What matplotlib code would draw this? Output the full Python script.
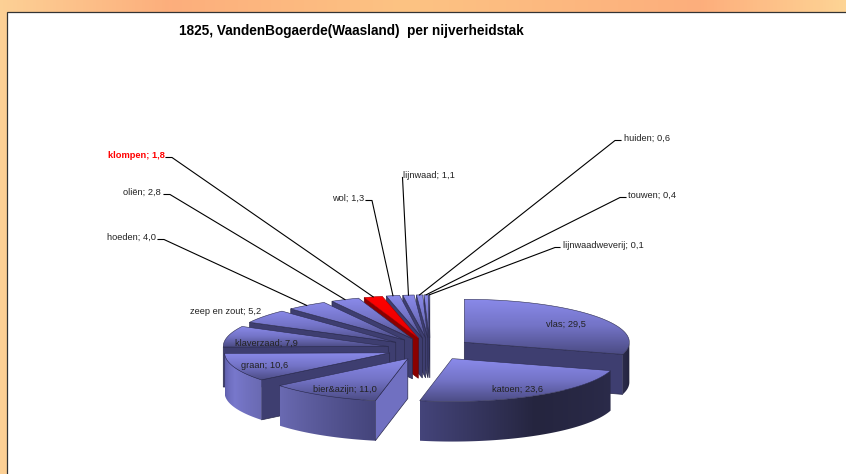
import numpy as np
import matplotlib
matplotlib.use('Agg')
import matplotlib.pyplot as plt
from matplotlib.colors import LinearSegmentedColormap, to_rgb
from matplotlib.patches import Polygon, Rectangle

plt.rcParams['font.family'] = ['Liberation Sans', 'DejaVu Sans']

# data, clockwise from 12 o'clock
categories = ['vlas', 'katoen', 'bier&azijn', 'graan', 'klaverzaad', 'zeep en zout', 'hoeden',
              'oliën', 'klompen', 'wol', 'lijnwaad', 'huiden', 'touwen', 'lijnwaadweverij']
values = [29.5, 23.6, 11.0, 10.6, 7.9, 5.2, 4.0, 2.8, 1.8, 1.3, 1.1, 0.6, 0.4, 0.1]
title = '1825, VandenBogaerde(Waasland)  per nijverheidstak'

# label layout in pixels: anchor x, y, horizontal alignment, leader start x, elbow x
label_pos = {
    'vlas': (566, 324, 'center', None, None),
    'katoen': (518, 389, 'center', None, None),
    'bier&azijn': (345, 389, 'center', None, None),
    'graan': (265, 366, 'center', None, None),
    'klaverzaad': (266, 343, 'center', None, None),
    'zeep en zout': (225.5, 311, 'center', None, None),
    'hoeden': (156, 237, 'right', 158, 164),
    'oliën': (161, 192, 'right', 164, 170),
    'klompen': (165, 155, 'right', 166, 172),
    'wol': (364, 198, 'right', 366, 372),
    'lijnwaad': (403, 175, 'left', 402.5, 402.5),
    'huiden': (623.5, 138, 'left', 621, 615),
    'touwen': (627.5, 195, 'left', 626, 620),
    'lijnwaadweverij': (562.7, 245, 'left', 560, 555),
}

# pie projection (pixels)
CX, CY = 430, 349
RX, RY = 165, 43
DEPTH = 40
EXPLODE = 0.26

fig = plt.figure(figsize=(8.46, 4.74), dpi=100)
ax = fig.add_axes([0, 0, 1, 1])
ax.axis('off')

bg = LinearSegmentedColormap.from_list('bg', [(0, '#fcd095'), (0.2, '#fdae7c'), (0.48, '#fcc383'),
                                              (0.83, '#fdae7c'), (1, '#fdd495')])
ax.imshow(np.linspace(0, 1, 256)[None, :], cmap=bg, extent=(0, 846, 474, 0), aspect='auto', zorder=0)
ax.add_patch(Rectangle((6.5, 11.5), 860, 480, fc='white', ec='#333333', lw=0.9, zorder=1))


def pt(theta, r=1.0):
    """theta in degrees clockwise from north, projected on the ellipse"""
    a = np.radians(theta)
    return np.array([RX * r * np.sin(a), -RY * r * np.cos(a)])


def ramp(theta, stops):
    ang = [a for a, _ in stops]
    rgb = np.array([to_rgb(c) for _, c in stops])
    return np.stack([np.interp(theta, ang, rgb[:, i]) for i in range(3)], axis=-1)


WALL = [(90, '#1e1e36'), (106, '#2b2b4a'), (150, '#25253f'), (191, '#44447a'), (231, '#6a6ab2'),
        (250, '#7878cc'), (269, '#5c5ca8')]
FACE = [(100, '#7272c4'), (140, '#3e3e70')]


def clipped_image(arr, points, z):
    pts = np.array(points)
    x0, y0 = pts.min(axis=0)
    x1, y1 = pts.max(axis=0)
    im = ax.imshow(arr, extent=(x0, x1, y1, y0), origin='upper', aspect='auto', zorder=z)
    clip = Polygon(pts, closed=True, transform=ax.transData, fc='none', ec='none', zorder=z)
    ax.add_patch(clip)
    im.set_clip_path(clip)
    return x0, x1


top_cmap = LinearSegmentedColormap.from_list('top', [(0, '#8a8aea'), (0.5, '#7373c6'), (1, '#4c4c85')])
red_cmap = LinearSegmentedColormap.from_list('red', ['#ff0000', '#e80000'])

edges = np.cumsum([0] + values) / sum(values) * 360
mids = (edges[:-1] + edges[1:]) / 2
order = sorted(range(len(values)), key=lambda k: np.cos(np.radians(mids[k])), reverse=True)

anchors = {}
z = 10
for k in order:
    t0, t1 = edges[k], edges[k + 1]
    red = categories[k] == 'klompen'
    apex = np.array([CX, CY]) + EXPLODE * pt(mids[k])
    down = np.array([0, DEPTH])
    p0, p1 = apex + pt(t0), apex + pt(t1)
    anchors[categories[k]] = apex + pt(mids[k])

    # cut faces that look toward the viewer
    for edge_t, p, normal, seen in [(t0, p0, t0 - 90, np.sin(np.radians(t0)) < 0),
                                    (t1, p1, t1 + 90, np.sin(np.radians(t1)) > 0)]:
        if seen:
            c = '#8b0000' if red else tuple(ramp(normal, FACE))
            ax.add_patch(Polygon([apex, p, p + down, apex + down], fc=c,
                                 ec='#6a0000' if red else '#2a2a4c', lw=0.5, zorder=z))
    z += 1

    # outer wall, only the front half of the ellipse shows
    lo, hi = max(t0, 90), min(t1, 270)
    if hi > lo:
        th = np.linspace(lo, hi, 60)
        arc = np.array([apex + pt(a) for a in th])
        wall = np.vstack([arc, (arc + down)[::-1]])
        xs = np.linspace(wall[:, 0].min(), wall[:, 0].max(), 200)
        ang = 180 - np.degrees(np.arcsin(np.clip((xs - apex[0]) / RX, -1, 1)))
        if red:
            arr = ramp(ang, [(90, '#8b0000'), (270, '#8b0000')])
        else:
            arr = ramp(ang, WALL)
        clipped_image(arr[None, :, :], wall, z)
    z += 1

    # top
    th = np.linspace(t0, t1, max(3, int(t1 - t0) * 2 + 2))
    top = [apex] + [apex + pt(a) for a in th]
    cmap = red_cmap if red else top_cmap
    clipped_image(cmap(np.linspace(0, 1, 64))[:, None, :3], top, z)
    ax.add_patch(Polygon(top, closed=True, fc='none', ec='#aa0000' if red else '#2c2c50', lw=0.4, zorder=z))
    z += 1

# labels and leaders
for name, val in zip(categories, values):
    x, y, ha, lx, ex = label_pos[name]
    red = name == 'klompen'
    ax.text(x, y, f'{name}; {val:.1f}'.replace('.', ','), ha=ha, va='center', fontsize=6.7,
            color='#ff0000' if red else '#222222', fontweight='bold' if red else 'normal', zorder=200)
    if lx is not None:
        tx, ty = anchors[name]
        ax.plot([lx, ex, tx], [y + 2.5, y + 2.5, ty], color='black', lw=0.8, zorder=150)

ax.text(351.5, 31, title, ha='center', va='center', fontsize=9.8, fontweight='bold', color='black', zorder=200)

ax.set_xlim(0, 846)
ax.set_ylim(474, 0)
fig.savefig('out.png', dpi=100)
